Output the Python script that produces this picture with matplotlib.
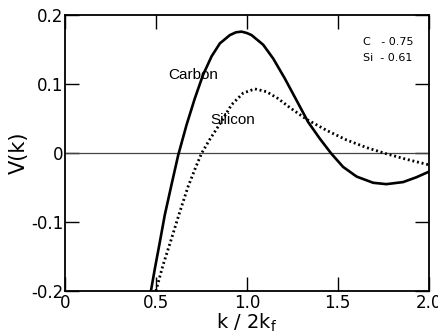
import matplotlib
matplotlib.use("Agg")
import matplotlib.pyplot as plt

# values
carbon_k = [0.473, 0.495, 0.522, 0.549, 0.586, 0.623, 0.669, 0.714, 0.759, 0.806, 0.852, 0.907,
            0.940, 0.971, 1.000, 1.026, 1.090, 1.145, 1.209, 1.264, 1.337, 1.401, 1.465, 1.529,
            1.603, 1.694, 1.767, 1.859, 1.932, 2.0]
carbon_v = [-0.200, -0.167, -0.129, -0.090, -0.046, -0.003, 0.041, 0.079, 0.113, 0.140, 0.159, 0.171,
            0.175, 0.176, 0.174, 0.171, 0.157, 0.137, 0.108, 0.081, 0.045, 0.021, -0.001, -0.020,
            -0.034, -0.043, -0.045, -0.042, -0.035, -0.027]

silicon_k = [0.500, 0.540, 0.586, 0.632, 0.678, 0.720, 0.752, 0.797, 0.861, 0.916, 0.980, 1.044,
             1.108, 1.172, 1.236, 1.328, 1.438, 1.548, 1.658, 1.767, 1.877, 2.0]
silicon_v = [-0.200, -0.162, -0.124, -0.085, -0.048, -0.020, 0.000, 0.020, 0.046, 0.070, 0.087, 0.093,
             0.089, 0.079, 0.066, 0.049, 0.033, 0.019, 0.008, -0.001, -0.009, -0.017]

x_ticks = [0, 0.5, 1.0, 1.5, 2.0]
x_labels = ["0", "0.5", "1.0", "1.5", "2.0"]
y_ticks = [-0.2, -0.1, 0, 0.1, 0.2]
y_labels = ["-0.2", "-0.1", "0", "0.1", "0.2"]

plt.rcParams["font.family"] = ["DejaVu Sans"]
narrow = ["Liberation Sans", "DejaVu Sans"]

fig = plt.figure(figsize=(4.38, 3.35), dpi=100)
ax = fig.add_axes([0.148, 0.131, 0.831, 0.824])

ax.axhline(0, color="#444444", lw=0.9)
ax.plot(carbon_k, carbon_v, color="black", lw=1.9, solid_joinstyle="round")
ax.plot(silicon_k, silicon_v, color="black", lw=2.0, ls=(0, (0.7, 1.0)))

ax.set_xlim(0, 2.0)
ax.set_ylim(-0.2, 0.2)
ax.set_xticks(x_ticks)
ax.set_xticklabels(x_labels)
ax.set_yticks(y_ticks)
ax.set_yticklabels(y_labels)
ax.tick_params(direction="in", length=10, width=1.0, top=True, right=True,
               labelsize=12, pad=1, colors="black")
ax.tick_params(axis="x", pad=2)
for s in ax.spines.values():
    s.set_linewidth(1.3)

ax.set_xlabel("k / 2k$_\\mathregular{f}$", fontsize=14, labelpad=0)
ax.set_ylabel("V(k)", fontsize=15, labelpad=2)

ax.text(0.566, 0.113, "Carbon", fontsize=11, va="center", ha="left", family=narrow)
ax.text(0.797, 0.048, "Silicon", fontsize=11, va="center", ha="left", family=narrow)
ax.text(1.637, 0.161, "C   - 0.75", fontsize=8, va="center", ha="left")
ax.text(1.637, 0.138, "Si  - 0.61", fontsize=8, va="center", ha="left")

fig.savefig("out.png", dpi=100)
